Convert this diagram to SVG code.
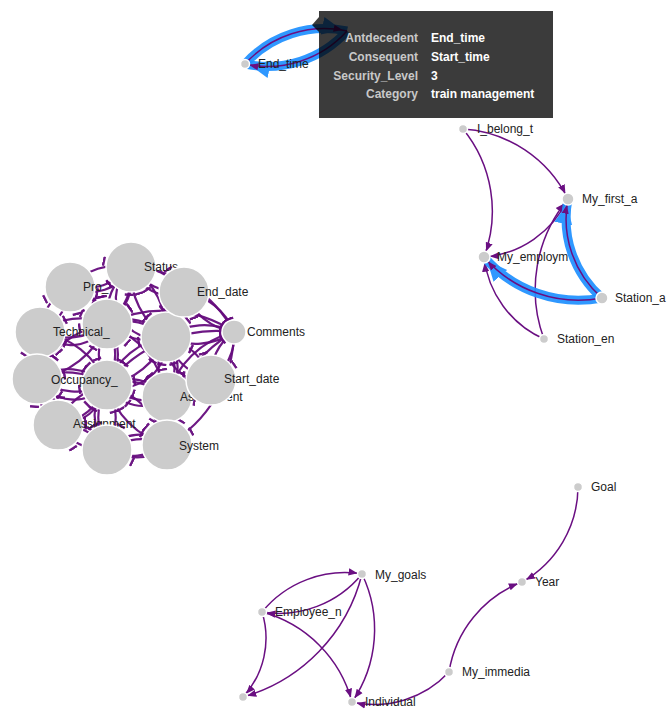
<svg xmlns="http://www.w3.org/2000/svg" width="668" height="709" viewBox="0 0 668 709">
<style>
.lk{fill:none;stroke:#6a0f82;stroke-width:1.5}
.ck{fill:none;stroke:#660c7e;stroke-width:2.2;opacity:.95;marker-end:url(#m25)}
.cc{marker-end:url(#m12)}
.hl{fill:none;stroke:#1e90ff;stroke-width:9;opacity:.92;marker-end:url(#hb)}
.nd{fill:#ccc;stroke:#fff;stroke-width:1.5}
.lb{font-family:"Liberation Sans",Arial,sans-serif;font-size:12px;fill:#222}
.tk{font-family:"Liberation Sans",Arial,sans-serif;font-size:12px;font-weight:bold;fill:#c8c8c8;text-anchor:end}
.tv{font-family:"Liberation Sans",Arial,sans-serif;font-size:12px;font-weight:bold;fill:#fff}
</style>
<defs>
<marker id="a6" viewBox="0 -5 10 10" refX="16.5" refY="0" markerWidth="9" markerHeight="9" markerUnits="userSpaceOnUse" orient="auto"><path d="M0,-4L10,0L0,4Z" fill="#6a0f82"/></marker>
<marker id="a4" viewBox="0 -5 10 10" refX="15" refY="0" markerWidth="9" markerHeight="9" markerUnits="userSpaceOnUse" orient="auto"><path d="M0,-4L10,0L0,4Z" fill="#6a0f82"/></marker>
<marker id="m25" viewBox="0 -5 10 10" refX="29" refY="0" markerWidth="10" markerHeight="10" markerUnits="userSpaceOnUse" orient="auto"><path d="M0,-4.5L2.5,-4.5L2.5,4.5L0,4.5Z" fill="#660c7e"/></marker>
<marker id="m12" viewBox="0 -5 10 10" refX="15" refY="0" markerWidth="10" markerHeight="10" markerUnits="userSpaceOnUse" orient="auto"><path d="M0,-4.5L2.5,-4.5L2.5,4.5L0,4.5Z" fill="#660c7e"/></marker>
<marker id="hb" viewBox="0 -5 10 10" refX="12.5" refY="0" markerWidth="20" markerHeight="20" markerUnits="userSpaceOnUse" orient="auto"><path d="M0,-4.5L10,0L0,4.5Z" fill="#1e90ff"/></marker>
</defs>
<rect width="668" height="709" fill="#fff"/>

<g id="connectors">
  <path class="hl" d="M245,64A107,107 0 0,1 347,31"/>
  <path class="hl" d="M347,31A107,107 0 0,1 245,64"/>
  <path class="lk" d="M245,64A107,107 0 0,1 347,31" marker-end="url(#a4)"/>
  <path class="lk" d="M347,31A107,107 0 0,1 245,64" marker-end="url(#a4)"/>

  <path class="lk" d="M463,129A126,126 0 0,1 568,199" marker-end="url(#a6)"/>
  <path class="lk" d="M463,129A130,130 0 0,1 484,257" marker-end="url(#a6)"/>
  <path class="lk" d="M568,199A102,102 0 0,1 484,257" marker-end="url(#a6)"/>
  <path class="lk" d="M544,339A102,102 0 0,1 484,257" marker-end="url(#a6)"/>
  <path class="lk" d="M544,339A142,142 0 0,1 568,199" marker-end="url(#a6)"/>
  <path class="hl" d="M602,298A105,105 0 0,1 568,199"/>
  <path class="hl" d="M602,298A125,125 0 0,1 484,257"/>
  <path class="lk" d="M602,298A105,105 0 0,1 568,199" marker-end="url(#a6)"/>
  <path class="lk" d="M602,298A125,125 0 0,1 484,257" marker-end="url(#a6)"/>

  <path class="lk" d="M262,612A107,107 0 0,1 362,574" marker-end="url(#a4)"/>
  <path class="lk" d="M362,574A107,107 0 0,1 262,612" marker-end="url(#a4)"/>
  <path class="lk" d="M262,612A87,87 0 0,1 243,697" marker-end="url(#a4)"/>
  <path class="lk" d="M362,574A171,171 0 0,1 243,697" marker-end="url(#a4)"/>
  <path class="lk" d="M262,612A127,127 0 0,1 352,702" marker-end="url(#a4)"/>
  <path class="lk" d="M362,574A128,128 0 0,1 352,702" marker-end="url(#a4)"/>
  <path class="lk" d="M449,672A102,102 0 0,1 352,702" marker-end="url(#a4)"/>
  <path class="lk" d="M449,672A116,116 0 0,1 522,582" marker-end="url(#a4)"/>
  <path class="lk" d="M578,487A110,110 0 0,1 522,582" marker-end="url(#a4)"/>

  <path class="ck" d="M131,267A64,64 0 0,1 70,287"/>
  <path class="ck" d="M70,287A64,64 0 0,1 131,267"/>
  <path class="ck" d="M131,267A59,59 0 0,1 184,292"/>
  <path class="ck" d="M184,292A59,59 0 0,1 131,267"/>
  <path class="ck" d="M131,267A62,62 0 0,1 107,324"/>
  <path class="ck" d="M107,324A62,62 0 0,1 131,267"/>
  <path class="ck" d="M131,267A78,78 0 0,1 166,337"/>
  <path class="ck" d="M166,337A78,78 0 0,1 131,267"/>
  <path class="ck" d="M70,287A52,52 0 0,1 107,324"/>
  <path class="ck" d="M107,324A52,52 0 0,1 70,287"/>
  <path class="ck" d="M70,287A54,54 0 0,1 40,332"/>
  <path class="ck" d="M40,332A54,54 0 0,1 70,287"/>
  <path class="ck" d="M184,292A48,48 0 0,1 166,337"/>
  <path class="ck" d="M166,337A48,48 0 0,1 184,292"/>
  <path class="ck cc" d="M184,292A64,64 0 0,1 234,332"/>
  <path class="ck" d="M234,332A64,64 0 0,1 184,292"/>
  <path class="ck" d="M40,332A67,67 0 0,1 107,324"/>
  <path class="ck" d="M107,324A67,67 0 0,1 40,332"/>
  <path class="ck" d="M40,332A47,47 0 0,1 37,379"/>
  <path class="ck" d="M37,379A47,47 0 0,1 40,332"/>
  <path class="ck" d="M107,324A60,60 0 0,1 166,337"/>
  <path class="ck" d="M166,337A60,60 0 0,1 107,324"/>
  <path class="ck" d="M107,324A61,61 0 0,1 107,385"/>
  <path class="ck" d="M107,385A61,61 0 0,1 107,324"/>
  <path class="ck" d="M107,324A89,89 0 0,1 37,379"/>
  <path class="ck" d="M37,379A89,89 0 0,1 107,324"/>
  <path class="ck cc" d="M166,337A68,68 0 0,1 234,332"/>
  <path class="ck" d="M234,332A68,68 0 0,1 166,337"/>
  <path class="ck" d="M166,337A76,76 0 0,1 107,385"/>
  <path class="ck" d="M107,385A76,76 0 0,1 166,337"/>
  <path class="ck" d="M166,337A60,60 0 0,1 167,397"/>
  <path class="ck" d="M167,397A60,60 0 0,1 166,337"/>
  <path class="ck" d="M166,337A62,62 0 0,1 211,380"/>
  <path class="ck" d="M211,380A62,62 0 0,1 166,337"/>
  <path class="ck" d="M37,379A70,70 0 0,1 107,385"/>
  <path class="ck" d="M107,385A70,70 0 0,1 37,379"/>
  <path class="ck" d="M37,379A51,51 0 0,1 58,425"/>
  <path class="ck" d="M58,425A51,51 0 0,1 37,379"/>
  <path class="ck" d="M107,385A61,61 0 0,1 167,397"/>
  <path class="ck" d="M167,397A61,61 0 0,1 107,385"/>
  <path class="ck" d="M107,385A63,63 0 0,1 58,425"/>
  <path class="ck" d="M58,425A63,63 0 0,1 107,385"/>
  <path class="ck" d="M107,385A65,65 0 0,1 107,450"/>
  <path class="ck" d="M107,450A65,65 0 0,1 107,385"/>
  <path class="ck" d="M107,385A85,85 0 0,1 167,445"/>
  <path class="ck" d="M167,445A85,85 0 0,1 107,385"/>
  <path class="ck" d="M167,397A48,48 0 0,1 167,445"/>
  <path class="ck" d="M167,445A48,48 0 0,1 167,397"/>
  <path class="ck" d="M167,397A47,47 0 0,1 211,380"/>
  <path class="ck" d="M211,380A47,47 0 0,1 167,397"/>
  <path class="ck" d="M58,425A55,55 0 0,1 107,450"/>
  <path class="ck" d="M107,450A55,55 0 0,1 58,425"/>
  <path class="ck" d="M107,450A60,60 0 0,1 167,445"/>
  <path class="ck" d="M167,445A60,60 0 0,1 107,450"/>
  <path class="ck" d="M234,332A53,53 0 0,1 211,380"/>
  <path class="ck cc" d="M211,380A53,53 0 0,1 234,332"/>
  <path class="ck" d="M234,332A131,131 0 0,1 167,445"/>
  <path class="ck" d="M107,324A94,94 0 0,1 167,397"/>
  <path class="ck" d="M40,332A85,85 0 0,1 107,385"/>
  <path class="ck cc" d="M167,397A93,93 0 0,1 234,332"/>
  <path class="ck cc" d="M131,267A122,122 0 0,1 234,332"/>
  <path class="ck cc" d="M107,324A127,127 0 0,1 234,332"/>
  <path class="ck cc" d="M107,385A138,138 0 0,1 234,332"/>
  <path class="ck cc" d="M167,445A131,131 0 0,1 234,332"/>
  <path class="ck" d="M131,267A45,45 0 0,1 70,287"/>
  <path class="ck" d="M184,292A40,40 0 0,1 131,267"/>
  <path class="ck" d="M107,324A50,50 0 0,1 166,337"/>
  <path class="ck" d="M166,337A45,45 0 0,1 107,385"/>
  <path class="ck" d="M107,385A48,48 0 0,1 167,397"/>
  <path class="ck" d="M40,332A40,40 0 0,1 37,379"/>
  <path class="ck" d="M58,425A40,40 0 0,1 107,450"/>
  <path class="ck" d="M107,450A42,42 0 0,1 167,445"/>
  <path class="ck" d="M107,324A48,48 0 0,1 107,385"/>
  <path class="ck" d="M37,379A55,55 0 0,1 107,385"/>
  <path class="ck" d="M70,287A45,45 0 0,1 107,324"/>
  <path class="ck" d="M166,337A46,46 0 0,1 167,397"/>
  <path class="ck" d="M107,385A50,50 0 0,1 58,425"/>
  <path class="ck" d="M131,267A55,55 0 0,1 107,324"/>
  <path class="ck" d="M166,337A40,40 0 0,1 131,267"/>
  <path class="ck" d="M167,397A40,40 0 0,1 107,385"/>
  <path class="ck" d="M107,385A44,44 0 0,1 37,379"/>
  <path class="ck" d="M167,445A40,40 0 0,1 107,385"/>
  <path class="ck" d="M211,380A38,38 0 0,1 166,337"/>
  <path class="ck" d="M107,324A42,42 0 0,1 40,332"/>
</g>

<g id="n-end_time"><circle class="nd" cx="245" cy="64" r="4.5"/><text class="lb" x="258" y="68">End_time</text></g>

<g id="n-i_belong_t"><circle class="nd" cx="463" cy="129" r="4.5"/><text class="lb" x="477" y="133">I_belong_t</text></g>
<g id="n-my_first_a"><circle class="nd" cx="568" cy="199" r="6"/><text class="lb" x="582" y="203">My_first_a</text></g>
<g id="n-my_employm"><circle class="nd" cx="484" cy="257" r="6"/><text class="lb" x="497" y="261">My_employm</text></g>
<g id="n-station_a"><circle class="nd" cx="602" cy="298" r="6"/><text class="lb" x="615" y="302">Station_a</text></g>
<g id="n-station_en"><circle class="nd" cx="544" cy="339" r="4.5"/><text class="lb" x="557" y="343">Station_en</text></g>

<g id="n-c1"><circle class="nd" cx="107" cy="324" r="25"/></g>
<g id="n-c2"><circle class="nd" cx="166" cy="337" r="25"/></g>
<g id="n-c3"><circle class="nd" cx="107" cy="385" r="25"/></g>
<g id="n-pro"><circle class="nd" cx="70" cy="287" r="25"/><text class="lb" x="83" y="291">Pro_</text></g>
<g id="n-status"><circle class="nd" cx="131" cy="267" r="25"/><text class="lb" x="144" y="271">Status</text></g>
<g id="n-end_date"><circle class="nd" cx="184" cy="292" r="25"/><text class="lb" x="197" y="296">End_date</text></g>
<g id="n-technical"><circle class="nd" cx="40" cy="332" r="25"/><text class="lb" x="53" y="336">Technical_</text></g>
<g id="n-occupancy"><circle class="nd" cx="37" cy="379" r="25"/><text class="lb" x="51" y="384">Occupancy_</text></g>
<g id="n-comments"><circle class="nd" cx="234" cy="332" r="12"/><text class="lb" x="247" y="336">Comments</text></g>
<g id="n-assignment1"><circle class="nd" cx="167" cy="397" r="25"/><text class="lb" x="180" y="401">Assignment</text></g>
<g id="n-start_date"><circle class="nd" cx="211" cy="380" r="25"/><text class="lb" x="224" y="383">Start_date</text></g>
<g id="n-assignment2"><circle class="nd" cx="58" cy="425" r="25"/><text class="lb" x="73" y="428">Assignment</text></g>
<g id="n-c4"><circle class="nd" cx="107" cy="450" r="25"/></g>
<g id="n-system"><circle class="nd" cx="167" cy="445" r="25"/><text class="lb" x="179" y="450">System</text></g>

<g id="n-my_goals"><circle class="nd" cx="362" cy="574" r="4.5"/><text class="lb" x="375" y="579">My_goals</text></g>
<g id="n-employee_n"><circle class="nd" cx="262" cy="612" r="4.5"/><text class="lb" x="275" y="616">Employee_n</text></g>
<g id="n-unnamed"><circle class="nd" cx="243" cy="697" r="4.5"/></g>
<g id="n-individual"><circle class="nd" cx="352" cy="702" r="4.5"/><text class="lb" x="365" y="706">Individual</text></g>
<g id="n-goal"><circle class="nd" cx="578" cy="487" r="4.5"/><text class="lb" x="591" y="491">Goal</text></g>
<g id="n-year"><circle class="nd" cx="522" cy="582" r="4.5"/><text class="lb" x="535" y="586">Year</text></g>
<g id="n-my_immedia"><circle class="nd" cx="449" cy="672" r="4.5"/><text class="lb" x="462" y="676">My_immedia</text></g>

<g id="tooltip">
  <polygon points="312,25 319,17 319,32" fill="#000" fill-opacity=".77"/>
  <rect x="319" y="11" width="234" height="107" fill="#000" fill-opacity=".77"/>
  <text class="tk" x="418" y="42">Antdecedent</text><text class="tv" x="431" y="42">End_time</text>
  <text class="tk" x="418" y="61">Consequent</text><text class="tv" x="431" y="61">Start_time</text>
  <text class="tk" x="418" y="80">Security_Level</text><text class="tv" x="431" y="80">3</text>
  <text class="tk" x="418" y="98">Category</text><text class="tv" x="431" y="98">train management</text>
</g>
</svg>
